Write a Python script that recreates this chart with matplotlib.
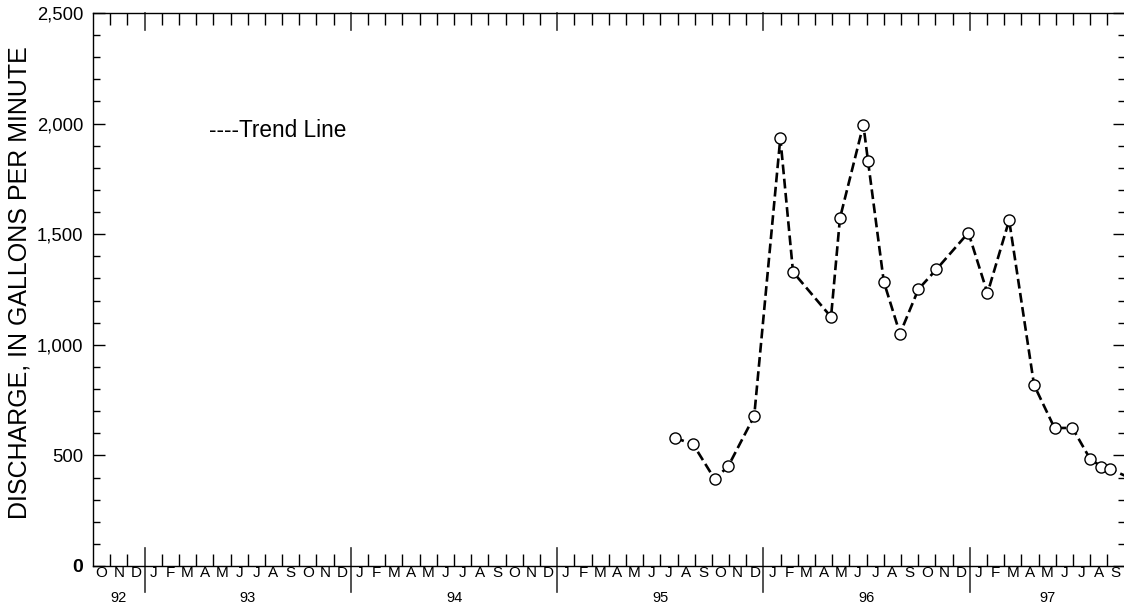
import matplotlib
matplotlib.use("Agg")
import matplotlib.pyplot as plt
import matplotlib.transforms as mtransforms
from matplotlib.ticker import FixedLocator, FuncFormatter

plt.rcParams['font.family'] = ['Liberation Sans', 'DejaVu Sans']

# x = months since 1 Oct 1992 (fractional), y = discharge (gal/min)
months = [33.83, 34.91, 36.16, 36.95, 38.46, 39.98, 40.72, 42.93, 43.45,
          44.81, 45.08, 46.00, 46.94, 48.01, 49.06, 50.92, 52.03, 53.29,
          54.74, 55.93, 56.97, 58.00, 58.66, 59.15, 60.40]
discharge = [580, 550, 393, 451, 677, 1935, 1329, 1126, 1573,
             1995, 1831, 1285, 1050, 1251, 1341, 1507, 1233, 1563,
             818, 624, 624, 484, 449, 439, 395]

month_letters = ['O', 'N', 'D'] + ['J', 'F', 'M', 'A', 'M', 'J', 'J', 'A', 'S', 'O', 'N', 'D'] * 4 + \
                ['J', 'F', 'M', 'A', 'M', 'J', 'J', 'A', 'S']
year_labels = ['92', '93', '94', '95', '96', '97']
year_centers = [1.5, 9, 21, 33, 45, 55.5]
year_bounds = [3, 15, 27, 39, 51]

W, H = 1124, 607
fig = plt.figure(figsize=(W / 100, H / 100), dpi=100)
ax_l, ax_r, ax_t, ax_b = 93, 1124.5, 13, 566
ax = fig.add_axes([ax_l / W, 1 - ax_b / H, (ax_r - ax_l) / W, (ax_b - ax_t) / H])
axh = ax_b - ax_t

ax.plot(months, discharge, color='black', lw=1.9, dashes=(3.7, 1.7),
        marker='o', markersize=8.0, markerfacecolor='white',
        markeredgecolor='black', markeredgewidth=1.0, clip_on=True, zorder=3)

ax.set_xlim(0, 60)
ax.set_ylim(0, 2500)

ax.spines['right'].set_visible(False)
for s in ['left', 'top', 'bottom']:
    ax.spines[s].set_linewidth(1.0)

# y ticks
ax.yaxis.set_major_locator(FixedLocator(range(0, 2501, 500)))
ax.yaxis.set_minor_locator(FixedLocator([v for v in range(0, 2501, 100) if v % 500]))
ax.yaxis.set_major_formatter(FuncFormatter(lambda v, p: f"{int(v):,}"))
ax.tick_params(axis='y', which='major', direction='in', length=8.6, width=1.0,
               left=True, right=True, labelsize=13.3, pad=7)
ax.tick_params(axis='y', which='minor', direction='in', length=5, width=1.0,
               left=True, right=True)
for lbl in ax.get_yticklabels():
    if lbl.get_text() == '0':
        lbl.set_fontweight('bold')
        lbl.set_fontsize(14)

# x ticks: month boundaries as minor ticks, year boundaries drawn longer
ax.set_xticks([])
ax.xaxis.set_minor_locator(FixedLocator([m for m in range(1, 60) if m not in year_bounds]))
ax.tick_params(axis='x', which='minor', direction='in', length=8.6, width=1.0,
               top=True, bottom=True, labelbottom=False)

trans = mtransforms.blended_transform_factory(ax.transData, ax.transAxes)
for yb in year_bounds:
    ax.plot([yb, yb], [18 / axh, -26 / axh], color='#333333', lw=1.2,
            transform=trans, clip_on=False)
    ax.plot([yb, yb], [1, 1 - 17 / axh], color='#333333', lw=1.2,
            transform=trans, clip_on=False)

for i, m in enumerate(month_letters):
    ax.text(i + 0.5, -7 / axh, m, transform=trans, ha='center', va='center',
            fontsize=11)
for c, y in zip(year_centers, year_labels):
    ax.text(c, -32 / axh, y, transform=trans, ha='center', va='center',
            fontsize=10.5)

ax.text((209 - ax_l) / (ax_r - ax_l), (ax_b - 137.3) / axh, '----Trend Line',
        transform=ax.transAxes, ha='left', va='baseline', fontsize=16.3)

fig.text(20 / W, 1 - 283 / H, 'DISCHARGE, IN GALLONS PER MINUTE', rotation=90,
         ha='center', va='center', fontsize=18)

fig.savefig('out.png', dpi=100)
